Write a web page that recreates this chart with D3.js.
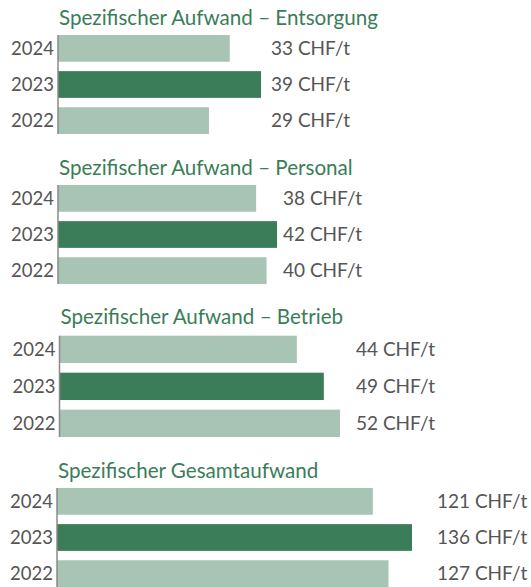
<!DOCTYPE html>
<html>
<head>
<meta charset="utf-8">
<script src="https://cdn.jsdelivr.net/npm/d3@7"></script>
<style>
  body { margin: 0; background: #fff; }
  svg { display: block; }
  .title { fill: #3a7d58; font-family: Lato, sans-serif; font-size: 20.6px; }
  .year { fill: #555; font-family: Lato, sans-serif; font-size: 18.5px; text-anchor: end; }
  .value { fill: #555; font-family: Lato, sans-serif; font-size: 19px; }
  .axis-line { stroke: #8a8a8a; stroke-width: 1.5; }
</style>
</head>
<body>
<div id="chart"></div>
<script>
// Spezifischer Aufwand per year, in CHF/t

let width = 531;
let height = 587;

// The data
let years = ["2024", "2023", "2022"];
let highlightYear = "2023";
let unit = "CHF/t";

let titles = [
    "Spezifischer Aufwand \u2013 Entsorgung",
    "Spezifischer Aufwand \u2013 Personal",
    "Spezifischer Aufwand \u2013 Betrieb",
    "Spezifischer Gesamtaufwand"
];

let entsorgung = [33, 39, 29];
let personal = [38, 42, 40];
let betrieb = [44, 49, 52];
let gesamt = [121, 136, 127];

let seriesList = [entsorgung, personal, betrieb, gesamt];

// Where each small chart sits (x of the axis, x of the longest bar end,
// top and bottom of the bars, x of the value labels, title baseline)
let layout = [
    { x0: 58,   x1: 261, top: 35,    bottom: 134, labelX: 271, titleY: 25 },
    { x0: 58,   x1: 277, top: 185,   bottom: 284, labelX: 283, titleY: 175 },
    { x0: 59.5, x1: 340, top: 335.7, bottom: 437, labelX: 356, titleY: 324 },
    { x0: 57,   x1: 412, top: 488,   bottom: 587, labelX: 437, titleY: 478 }
];

let lightGreen = "#a7c4b5";
let darkGreen = "#3a7d58";

let svg = d3.select("#chart")
    .append("svg")
    .attr("width", width)
    .attr("height", height);

seriesList.forEach(function (values, i) {
    let pos = layout[i];
    let rows = years.map(function (y, j) {
        return { year: y, value: values[j] };
    });

    let xScale = d3.scaleLinear()
        .domain([0, d3.max(values)])
        .range([pos.x0, pos.x1]);

    let yScale = d3.scaleBand()
        .domain(years)
        .range([pos.top, pos.bottom])
        .paddingInner(0.26);

    let g = svg.append("g");

    g.append("text")
        .attr("class", "title")
        .attr("x", pos.x0 + 1)
        .attr("y", pos.titleY)
        .text(titles[i]);

    g.selectAll("rect")
        .data(rows)
        .enter()
        .append("rect")
        .attr("x", xScale(0))
        .attr("y", function (d) { return yScale(d.year); })
        .attr("width", function (d) { return xScale(d.value) - xScale(0); })
        .attr("height", yScale.bandwidth())
        .attr("fill", function (d) {
            return d.year === highlightYear ? darkGreen : lightGreen;
        });

    // thin axis line on the left
    g.append("line")
        .attr("class", "axis-line")
        .attr("x1", xScale(0))
        .attr("x2", xScale(0))
        .attr("y1", pos.top)
        .attr("y2", pos.bottom);

    g.selectAll(".year")
        .data(rows)
        .enter()
        .append("text")
        .attr("class", "year")
        .attr("x", xScale(0) - 4)
        .attr("y", function (d) { return yScale(d.year) + yScale.bandwidth() / 2; })
        .attr("dy", "0.36em")
        .text(function (d) { return d.year; });

    g.selectAll(".value")
        .data(rows)
        .enter()
        .append("text")
        .attr("class", "value")
        .attr("x", pos.labelX)
        .attr("y", function (d) { return yScale(d.year) + yScale.bandwidth() / 2; })
        .attr("dy", "0.36em")
        .text(function (d) { return d.value + " " + unit; });
});
</script>
</body>
</html>
